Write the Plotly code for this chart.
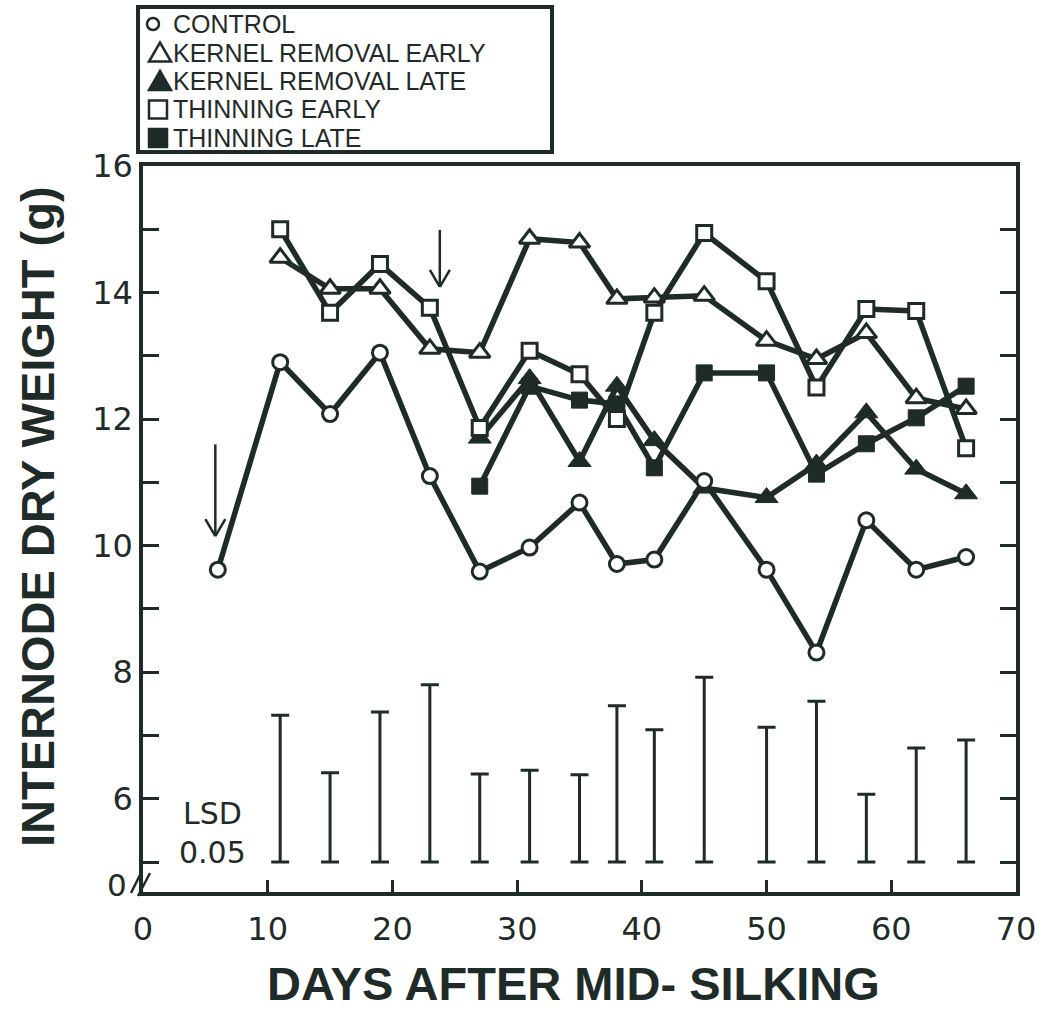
import plotly.graph_objects as go

# ---- data -------------------------------------------------------------
days_ctrl = [6, 11, 15, 19, 23, 27, 31, 35, 38, 41, 45, 50, 54, 58, 62, 66]
control = [9.62, 12.90, 12.08, 13.05, 11.10, 9.59, 9.97, 10.68, 9.71, 9.78,
           11.02, 9.62, 8.31, 10.40, 9.62, 9.82]

days_early = [11, 15, 19, 23, 27, 31, 35, 38, 41, 45, 50, 54, 58, 62, 66]
kernel_early = [14.55, 14.06, 14.06, 13.11, 13.05, 14.85, 14.79, 13.90, 13.92,
                13.95, 13.24, 12.95, 13.36, 12.33, 12.16]
thinning_early = [15.00, 13.68, 14.45, 13.76, 11.86, 13.08, 12.71, 12.00, 13.68,
                  14.94, 14.18, 12.50, 13.74, 13.71, 11.54]

days_late = [27, 31, 35, 38, 41, 45, 50, 54, 58, 62, 66]
kernel_late = [11.70, 12.64, 11.33, 12.52, 11.66, 10.91, 10.76, 11.29, 12.10,
               11.21, 10.82]
thinning_late = [10.94, 12.52, 12.30, 12.24, 11.23, 12.73, 12.73, 11.13, 11.61,
                 12.02, 12.52]

# LSD (0.05) bar lengths drawn up from the baseline
lsd_days = days_early
lsd = [2.32, 1.41, 2.37, 2.80, 1.39, 1.45, 1.38, 2.47, 2.09, 2.92, 2.13, 2.54,
       1.07, 1.80, 1.93]
LSD_BASE = 5.0

# treatment timing arrows: (day, top, tip)
arrows = [(5.8, 11.6, 10.15), (23.8, 14.99, 14.09)]

x_ticks = [0, 10, 20, 30, 40, 50, 60, 70]
y_ticks = [5, 6, 7, 8, 9, 10, 11, 12, 13, 14, 15, 16]
y_labels = ["", "6", "", "8", "", "10", "", "12", "", "14", "", "16"]

legend_names = ["CONTROL", "KERNEL REMOVAL EARLY", "KERNEL REMOVAL LATE",
                "THINNING EARLY", "THINNING LATE"]

# ---- style ------------------------------------------------------------
INK = "#1f2b29"
W, H = 1047, 1010
ML, MR, MT, MB = 143, 31, 166, 118
PW, PH = W - ML - MR, H - MT - MB


def px(x):
    return (x - ML) / PW


def py(y):
    return (H - MB - y) / PH


fig = go.Figure()

# LSD bars (caps at both ends)
fig.add_trace(go.Scatter(
    x=lsd_days, y=[LSD_BASE + v / 2 for v in lsd], mode="markers",
    marker=dict(size=1, color="rgba(0,0,0,0)"),
    error_y=dict(type="data", array=[v / 2 for v in lsd], symmetric=True,
                 color=INK, thickness=3, width=9),
    showlegend=False, hoverinfo="skip"))

line = dict(color=INK, width=5.5)


def series(x, y, symbol, size, fill, lw):
    fig.add_trace(go.Scatter(
        x=x, y=y, mode="lines+markers", line=line, showlegend=False,
        marker=dict(symbol=symbol, size=size, color=fill,
                    line=dict(color=INK, width=lw))))


series(days_late, thinning_late, "square", 16, INK, 1)
series(days_late, kernel_late, "triangle-up", 20, INK, 1)
series(days_ctrl, control, "circle", 15, "white", 3)
series(days_early, kernel_early, "triangle-up", 18, "white", 3)
series(days_early, thinning_early, "square", 15, "white", 3)

shapes = []
# arrows marking the treatment dates
for ax, top, tip in arrows:
    shapes.append(dict(type="line", xref="x", yref="y", x0=ax, x1=ax,
                       y0=top, y1=tip, line=dict(color=INK, width=2.5)))
    for side in (-0.8, 0.8):
        shapes.append(dict(type="line", xref="x", yref="y", x0=ax + side,
                           x1=ax, y0=tip + 0.27, y1=tip,
                           line=dict(color=INK, width=2.5)))

# axis break marks
for x0, y0, x1, y1 in [(131, 893, 142, 871), (138, 896, 150, 873)]:
    shapes.append(dict(type="line", xref="paper", yref="paper",
                       x0=px(x0), y0=py(y0), x1=px(x1), y1=py(y1),
                       line=dict(color=INK, width=2.5)))

# legend frame
shapes.append(dict(type="rect", xref="paper", yref="paper",
                   x0=px(138), x1=px(552), y0=py(152), y1=py(7),
                   line=dict(color=INK, width=4), fillcolor="white"))

# legend symbols
rows_y = [24, 52.5, 81, 109.5, 138]
shapes.append(dict(type="circle", xref="paper", yref="paper",
                   x0=px(147), x1=px(159), y0=py(rows_y[0] + 6),
                   y1=py(rows_y[0] - 6), line=dict(color=INK, width=2.5)))
for yc, fill in [(rows_y[1], "white"), (rows_y[2], INK)]:
    shapes.append(dict(
        type="path", xref="paper", yref="paper",
        path=f"M {px(149)},{py(yc + 9)} L {px(171)},{py(yc + 9)} "
             f"L {px(160)},{py(yc - 10)} Z",
        line=dict(color=INK, width=2.5), fillcolor=fill))
for yc, fill in [(rows_y[3], "white"), (rows_y[4], INK)]:
    shapes.append(dict(type="rect", xref="paper", yref="paper",
                       x0=px(149), x1=px(167), y0=py(yc + 9), y1=py(yc - 9),
                       line=dict(color=INK, width=2.5), fillcolor=fill))

annotations = []
for name, yc in zip(legend_names, rows_y):
    annotations.append(dict(
        text=name, xref="paper", yref="paper", x=px(172), y=py(yc),
        xanchor="left", yanchor="middle", showarrow=False, borderpad=0,
        font=dict(family="Liberation Sans", size=25, color=INK)))

annotations += [
    dict(text="LSD<br>0.05", xref="paper", yref="paper", x=px(212),
         y=py(833), xanchor="center", yanchor="middle", showarrow=False,
         font=dict(family="DejaVu Sans", size=30, color=INK)),
    dict(text="0", xref="paper", yref="paper", x=px(117), y=py(885),
         xanchor="center", yanchor="middle", showarrow=False,
         font=dict(family="DejaVu Sans", size=31, color=INK)),
    dict(text="DAYS AFTER MID- SILKING", xref="paper", yref="paper",
         x=px(573), y=py(983), xanchor="center", yanchor="middle",
         showarrow=False,
         font=dict(family="Liberation Sans", size=47, color=INK,
                   weight="bold")),
    dict(text="INTERNODE DRY WEIGHT (g)", xref="paper", yref="paper",
         x=px(37), y=py(517), xanchor="center", yanchor="middle",
         textangle=-90, showarrow=False,
         font=dict(family="Liberation Sans", size=47, color=INK,
                   weight="bold")),
]

fig.update_layout(
    width=W, height=H, margin=dict(l=ML, r=MR, t=MT, b=MB),
    paper_bgcolor="white", plot_bgcolor="white",
    shapes=shapes, annotations=annotations, showlegend=False,
    xaxis=dict(range=[0, 70], tickvals=x_ticks, ticks="inside", ticklen=12,
               tickwidth=3, tickcolor=INK, showline=True, linewidth=3.5,
               linecolor=INK, mirror=True, showgrid=False, zeroline=False,
               ticklabelstandoff=6,
               tickfont=dict(family="DejaVu Sans", size=32, color=INK)),
    yaxis=dict(range=[4.526, 16], tickvals=y_ticks, ticktext=y_labels,
               ticks="inside", ticklen=16, tickwidth=3, tickcolor=INK,
               showline=True, linewidth=3.5, linecolor=INK, mirror="ticks",
               showgrid=False, zeroline=False, ticklabelstandoff=0,
               tickfont=dict(family="DejaVu Sans", size=32, color=INK)),
)

fig.write_html("out.html")
